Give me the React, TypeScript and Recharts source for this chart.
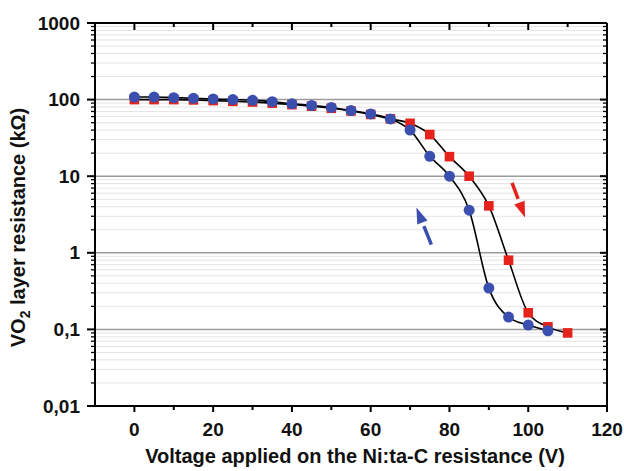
import React from 'react';
import { ComposedChart, Line, XAxis, YAxis, ReferenceLine } from 'recharts';

const voltages = [0, 5, 10, 15, 20, 25, 30, 35, 40, 45, 50, 55, 60, 65, 70, 75, 80, 85, 90, 95, 100, 105, 110];
const upSweep = [100, 100, 100, 99, 97, 95, 93, 90, 86, 82, 77, 71, 64, 56, 49, 35, 18, 10, 4.1, 0.8, 0.165, 0.108, 0.09];
const downSweep = [108, 108, 106, 104, 102, 100, 98, 94, 88, 84, 79, 72, 65, 56, 40, 18.2, 10, 3.6, 0.346, 0.145, 0.114, 0.096, null];

const xTicks = [0, 10, 20, 30, 40, 50, 60, 70, 80, 90, 100, 110, 120];
const xMajorTicks = [0, 20, 40, 60, 80, 100, 120];
const yDecades = [0.01, 0.1, 1, 10, 100, 1000];
const yMantissas = [2, 3, 4, 5, 6, 7, 8, 9];

// direction arrows: tail (voltage, value) -> tip (voltage, value)
const upArrow = { x1: 95.9, y1: 8.2, x2: 99.2, y2: 2.88, color: '#e5231d' };
const downArrow = { x1: 75.4, y1: 1.28, x2: 71.6, y2: 3.89, color: '#3b4fae' };

const RED = '#e5231d';
const BLUE = '#3b4fae';
const FONT = '"Liberation Sans", Arial, sans-serif';

const yMinorTicks: number[] = [];
yDecades.slice(0, -1).forEach((d) => yMantissas.forEach((m) => yMinorTicks.push(+(d * m).toPrecision(6))));
const yAllTicks = [...yDecades, ...yMinorTicks].sort((a, b) => a - b);

const data = voltages.map((v, i) => ({ v, up: upSweep[i], down: downSweep[i] }));

const isDecade = (v: number) => Math.abs(Math.log10(v) - Math.round(Math.log10(v))) < 1e-6;
const fmtY = (v: number) => String(v).replace('.', ',');

const LeftTick = (props: any) => {
  const { x, y, payload } = props;
  const major = isDecade(payload.value);
  return (
    <g>
      <line x1={x} x2={x - (major ? 8 : 4)} y1={y} y2={y} stroke="#000" strokeWidth={major ? 2 : 1.3} />
      {major && (
        <text x={x - 15} y={y} textAnchor="end" dominantBaseline="central" fontFamily={FONT} fontWeight="bold" fontSize={19} fill="#111">
          {fmtY(payload.value)}
        </text>
      )}
    </g>
  );
};

const RightTick = (props: any) => {
  const { x, y, payload } = props;
  const major = isDecade(payload.value);
  return <line x1={x} x2={x - (major ? 7 : 4)} y1={y} y2={y} stroke="#000" strokeWidth={major ? 2 : 1.3} />;
};

const BottomTick = (props: any) => {
  const { x, y, payload } = props;
  const major = xMajorTicks.includes(payload.value);
  return (
    <g>
      <line x1={x} x2={x} y1={y} y2={y + (major ? 6 : 4)} stroke="#000" strokeWidth={2} />
      {major && (
        <text x={x} y={y + 30} textAnchor="middle" fontFamily={FONT} fontWeight="bold" fontSize={19} fill="#111">
          {payload.value}
        </text>
      )}
    </g>
  );
};

const TopTick = (props: any) => {
  const { x, y, payload } = props;
  const major = xMajorTicks.includes(payload.value);
  return <line x1={x} x2={x} y1={y} y2={y + (major ? 7 : 4)} stroke="#000" strokeWidth={2} />;
};

const SquareDot = (props: any) => {
  const { cx, cy } = props;
  if (cx == null || cy == null) return null;
  return <rect x={cx - 4.8} y={cy - 4.8} width={9.6} height={9.6} fill={RED} />;
};

const makeArrow = (color: string) => (props: any) => {
  const { x1, y1, x2, y2 } = props;
  if ([x1, y1, x2, y2].some((v) => v == null || isNaN(v))) return null;
  const dx = x2 - x1;
  const dy = y2 - y1;
  const len = Math.sqrt(dx * dx + dy * dy);
  const ux = dx / len;
  const uy = dy / len;
  const px = -uy;
  const py = ux;
  const dashEnd = len - 20;
  const headStart = len - 16;
  const hw = 5.5;
  const bx = x1 + ux * headStart;
  const by = y1 + uy * headStart;
  return (
    <g>
      <line x1={x1} y1={y1} x2={x1 + ux * dashEnd} y2={y1 + uy * dashEnd} stroke={color} strokeWidth={3.5} />
      <polygon points={`${bx + px * hw},${by + py * hw} ${bx - px * hw},${by - py * hw} ${x2},${y2}`} fill={color} />
    </g>
  );
};

const YTitle = (props: any) => {
  const vb = props.viewBox || { x: 0, y: 0, height: 0 };
  const cx = vb.x + 25;
  const cy = vb.y + vb.height / 2 + 13;
  return (
    <text x={cx} y={cy} transform={`rotate(-90, ${cx}, ${cy})`} textAnchor="middle" fontFamily={FONT} fontWeight="bold" fontSize={20} fill="#111">
      VO<tspan fontSize={14} dy={5}>2</tspan>
      <tspan dy={-5}> layer resistance (kΩ)</tspan>
    </text>
  );
};

const XTitle = (props: any) => {
  const vb = props.viewBox || { x: 0, y: 0, width: 0 };
  return (
    <text x={vb.x + vb.width / 2 + 4} y={vb.y + 57} textAnchor="middle" fontFamily={FONT} fontWeight="bold" fontSize={20} fill="#111">
      Voltage applied on the Ni:ta-C resistance (V)
    </text>
  );
};

export default function App() {
  return (
    <div style={{ position: 'absolute', left: 0, top: 0, background: '#fff' }}>
      <ComposedChart width={624} height={471} data={data} margin={{ top: 22, right: 16, bottom: 0, left: 0 }}>
        <XAxis
          xAxisId="b"
          dataKey="v"
          type="number"
          domain={[-10, 120]}
          ticks={xTicks}
          interval={0}
          tickSize={0}
          tickMargin={0}
          tick={<BottomTick />}
          tickLine={false}
          axisLine={{ stroke: '#000', strokeWidth: 2 }}
          height={65}
          allowDataOverflow
          label={{ content: <XTitle /> }}
        />
        <XAxis
          xAxisId="t"
          orientation="top"
          dataKey="v"
          type="number"
          domain={[-10, 120]}
          ticks={xTicks}
          interval={0}
          tickSize={0}
          tickMargin={0}
          tick={<TopTick />}
          tickLine={false}
          axisLine={{ stroke: '#000', strokeWidth: 2 }}
          height={1}
          allowDataOverflow
        />
        <YAxis
          yAxisId="l"
          scale="log"
          type="number"
          domain={[0.01, 1000]}
          ticks={yAllTicks}
          interval={0}
          tickSize={0}
          tickMargin={0}
          tick={<LeftTick />}
          tickLine={false}
          axisLine={{ stroke: '#000', strokeWidth: 2 }}
          width={95}
          allowDataOverflow
          label={{ content: <YTitle /> }}
        />
        <YAxis
          yAxisId="r"
          orientation="right"
          scale="log"
          type="number"
          domain={[0.01, 1000]}
          ticks={yAllTicks}
          interval={0}
          tickSize={0}
          tickMargin={0}
          tick={<RightTick />}
          tickLine={false}
          axisLine={{ stroke: '#000', strokeWidth: 2 }}
          width={1}
          allowDataOverflow
        />
        {yMinorTicks.map((v) => (
          <ReferenceLine key={'m' + v} xAxisId="b" yAxisId="l" y={v} stroke="#e4e4e4" strokeWidth={1} />
        ))}
        {yDecades.slice(1, -1).map((v) => (
          <ReferenceLine key={'d' + v} xAxisId="b" yAxisId="l" y={v} stroke="#9c9c9c" strokeWidth={1.5} />
        ))}
        <ReferenceLine
          xAxisId="b"
          yAxisId="l"
          segment={[{ x: upArrow.x1, y: upArrow.y1 }, { x: upArrow.x2, y: upArrow.y2 }]}
          shape={makeArrow(upArrow.color)}
        />
        <ReferenceLine
          xAxisId="b"
          yAxisId="l"
          segment={[{ x: downArrow.x1, y: downArrow.y1 }, { x: downArrow.x2, y: downArrow.y2 }]}
          shape={makeArrow(downArrow.color)}
        />
        <Line
          xAxisId="b"
          yAxisId="l"
          dataKey="up"
          type="monotone"
          stroke="#000"
          strokeWidth={1.6}
          dot={<SquareDot />}
          activeDot={false}
          isAnimationActive={false}
        />
        <Line
          xAxisId="b"
          yAxisId="l"
          dataKey="down"
          type="monotone"
          stroke="#000"
          strokeWidth={1.6}
          dot={{ r: 5.5, fill: BLUE, stroke: BLUE, strokeWidth: 0 }}
          activeDot={false}
          isAnimationActive={false}
        />
      </ComposedChart>
    </div>
  );
}
